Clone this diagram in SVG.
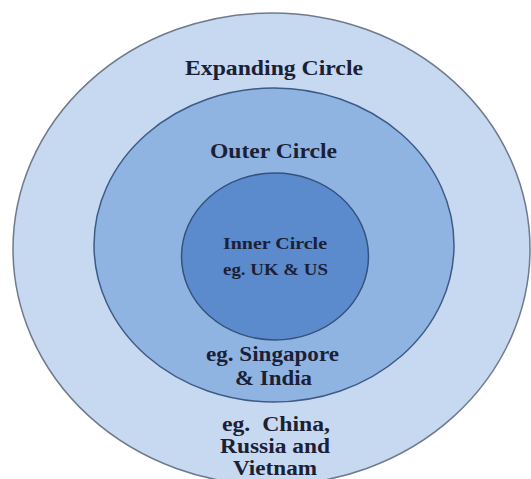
<svg xmlns="http://www.w3.org/2000/svg" width="531" height="479" viewBox="0 0 531 479">
  <style>
    .lbl { font-family: "Liberation Serif", "Times New Roman", serif; font-weight: bold; fill: #1b2035; text-anchor: middle; }
    .big { font-size: 20px; }
    .small { font-size: 17px; }
    .ring1 { fill: #c6d9f0; stroke: #6f7b8c; stroke-width: 1.5; }
    .ring2 { fill: #8fb4e2; stroke: #3e5b85; stroke-width: 1.5; }
    .ring3 { fill: #5b8bcd; stroke: #35527c; stroke-width: 1.5; }
  </style>
  <rect width="531" height="479" fill="#ffffff"/>
  <g id="expanding-circle">
    <ellipse class="ring1" cx="271.5" cy="249" rx="258.5" ry="236"/>
    <text class="lbl big" x="274" y="75" textLength="178" lengthAdjust="spacingAndGlyphs">Expanding Circle</text>
    <text class="lbl big" x="276" y="431" textLength="108" lengthAdjust="spacingAndGlyphs" xml:space="preserve">eg.  China,</text>
    <text class="lbl big" x="275" y="453" textLength="110" lengthAdjust="spacingAndGlyphs">Russia and</text>
    <text class="lbl big" x="275" y="475" textLength="84" lengthAdjust="spacingAndGlyphs">Vietnam</text>
  </g>
  <g id="outer-circle">
    <ellipse class="ring2" cx="274" cy="245" rx="180" ry="157"/>
    <text class="lbl big" x="273.5" y="158" textLength="127" lengthAdjust="spacingAndGlyphs">Outer Circle</text>
    <text class="lbl big" x="272.5" y="361" textLength="133" lengthAdjust="spacingAndGlyphs">eg. Singapore</text>
    <text class="lbl big" x="273.5" y="385" textLength="77" lengthAdjust="spacingAndGlyphs">&amp; India</text>
  </g>
  <g id="inner-circle">
    <ellipse class="ring3" cx="275" cy="256.5" rx="93.5" ry="83.5"/>
    <text class="lbl small" x="275" y="249" textLength="104" lengthAdjust="spacingAndGlyphs">Inner Circle</text>
    <text class="lbl small" x="275.5" y="275" textLength="105" lengthAdjust="spacingAndGlyphs">eg. UK &amp; US</text>
  </g>
</svg>
